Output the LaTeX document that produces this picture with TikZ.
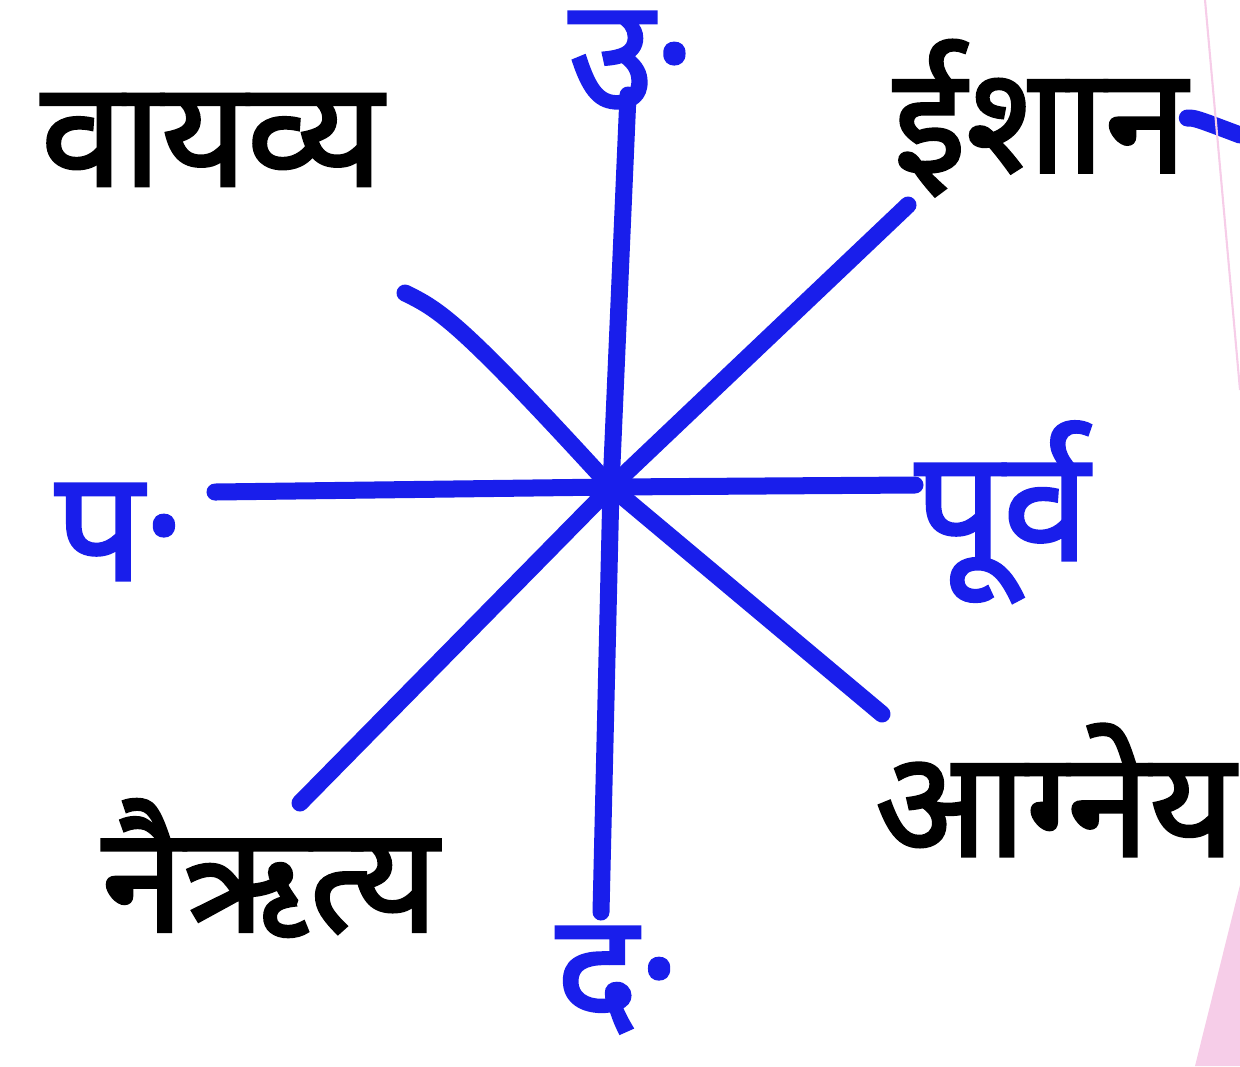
\documentclass[tikz,border=0pt]{standalone}
\usepackage{fontspec}
\usepackage{xcolor}
\usetikzlibrary{positioning}
\newfontfamily\hindi[Script=Devanagari, FakeBold=2]{Noto Sans}
\definecolor{penblue}{RGB}{25,30,235}
\definecolor{penpink}{RGB}{246,205,232}

\begin{document}
\begin{tikzpicture}[
  x=0.01cm, y=-0.01cm,
  ray/.style={draw=penblue, line width=0.17cm, line cap=round},
  dirlabel/.style={font=\hindi\fontsize{44}{50}\selectfont, text=penblue, inner sep=0pt},
  cornerlabel/.style={font=\hindi\fontsize{42}{50}\selectfont, text=black, inner sep=0pt}
]
  \useasboundingbox (0,0) rectangle (1240,1066);

  % centre and ends of the rays
  \coordinate (c) at (611,487);
  \coordinate (n) at (628,95);
  \coordinate (s) at (601,912);
  \coordinate (e) at (915,485);
  \coordinate (w) at (215,492);
  \coordinate (ne) at (908,205);
  \coordinate (sw) at (300,803);
  \coordinate (nw) at (405,293);
  \coordinate (se) at (882,714);

  \draw[ray] (n) -- (c) -- (s);
  \draw[ray] (w) -- (c) -- (e);
  \draw[ray] (ne) -- (c) -- (sw);
  \draw[ray] (nw) .. controls (440,310) and (460,322) .. (c) -- (se);

  % main directions
  \node[dirlabel] (uttar) at (632,60) {उ·};
  \node[dirlabel] (dakshin) at (618,980) {द·};
  \node[dirlabel] (purv) at (1002,512) {पूर्व};
  \node[dirlabel] (pashchim) at (120,532) {प·};

  % corner directions
  \node[cornerlabel] (vayavya) at (212,140) {वायव्य};
  \node[cornerlabel] (ishan) at (1040,118) {ईशान};
  \node[cornerlabel] (agneya) at (1055,790) {आग्नेय};
  \node[cornerlabel] (nairitya) at (270,868) {नैऋत्य};

  % stray marks at the page edge
  \coordinate (tail) at (1240,135);
  \draw[ray] (ishan.east) .. controls (1195,118) .. (tail);
  \draw[penpink, line width=0.6pt] (1205,0) -- (1240,390);
  \fill[penpink] (1240,885) -- (1240,1066) -- (1195,1066) -- cycle;
\end{tikzpicture}
\end{document}
